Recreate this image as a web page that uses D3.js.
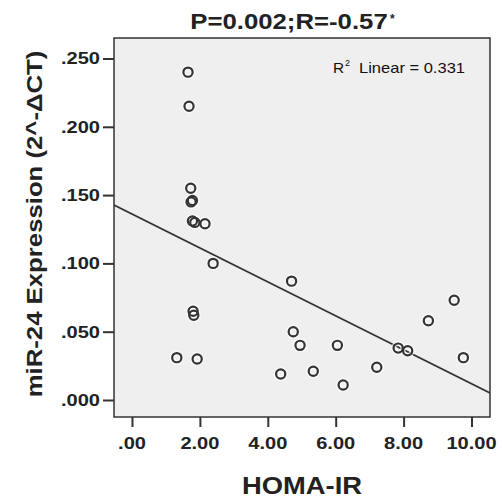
<!DOCTYPE html>
<html>
<head>
<meta charset="utf-8">
<script src="https://cdn.jsdelivr.net/npm/d3@7"></script>
<style>
  body { margin: 0; background: #ffffff; }
  text { font-family: "Liberation Sans", Arial, sans-serif; fill: #222; }
</style>
</head>
<body>
<svg id="chart" width="502" height="503"></svg>
<script>
// HOMA-IR vs miR-24 expression
const homaIR = [1.65, 1.68, 1.73, 1.74, 1.78, 1.78, 1.85, 2.15, 2.39, 1.80, 1.82, 1.32, 1.92,
  4.70, 4.75, 4.95, 6.05, 4.38, 5.34, 6.22, 7.21, 7.84, 8.12, 8.73, 9.49, 9.76];
const mir24 = [0.240, 0.215, 0.155, 0.145, 0.146, 0.131, 0.130, 0.129, 0.100, 0.065, 0.062, 0.031, 0.030,
  0.087, 0.050, 0.040, 0.040, 0.019, 0.021, 0.011, 0.024, 0.038, 0.036, 0.058, 0.073, 0.031];

const xTicks = [0, 2, 4, 6, 8, 10];
const xTickLabels = [".00", "2.00", "4.00", "6.00", "8.00", "10.00"];
const yTicks = [0, 0.05, 0.10, 0.15, 0.20, 0.25];
const yTickLabels = [".000", ".050", ".100", ".150", ".200", ".250"];

// linear fit drawn in the picture
const fitIntercept = 0.1362;
const fitSlope = -0.01243;

const titleText = "P=0.002;R=-0.57";
const xTitle = "HOMA-IR";
const yTitle = "miR-24 Expression (2^-\u0394CT)";
const legendValue = "Linear = 0.331";

const svg = d3.select("#chart");
const plotL = 114, plotR = 490, plotT = 38, plotB = 417;

const x = d3.scaleLinear().domain([-0.53, 10.545]).range([plotL, plotR]);
const y = d3.scaleLinear().domain([-0.01245, 0.265]).range([plotB, plotT]);

// text is a bit wider than the font, so stretch it
function label(parent, px, py, txt, size, sx, anchor, rot, weight) {
  const g = parent.append("g")
    .attr("transform", `translate(${px},${py}) rotate(${rot || 0}) scale(${sx},1)`);
  return g.append("text")
    .attr("text-anchor", anchor)
    .style("font-size", size + "px")
    .style("font-weight", weight || "bold")
    .text(txt);
}

svg.append("rect")
  .attr("x", plotL).attr("y", plotT)
  .attr("width", plotR - plotL).attr("height", plotB - plotT)
  .style("fill", "#efefef");

svg.append("clipPath").attr("id", "plotClip")
  .append("rect")
  .attr("x", plotL).attr("y", plotT)
  .attr("width", plotR - plotL).attr("height", plotB - plotT);

// fit line
svg.append("line")
  .attr("clip-path", "url(#plotClip)")
  .attr("x1", x(-0.53)).attr("y1", y(fitIntercept + fitSlope * -0.53))
  .attr("x2", x(10.545)).attr("y2", y(fitIntercept + fitSlope * 10.545))
  .style("stroke", "#333")
  .style("stroke-width", 1.8);

const pts = homaIR.map((v, i) => ({ hx: v, my: mir24[i] }));

svg.append("g").selectAll("circle")
  .data(pts)
  .join("circle")
  .attr("cx", d => x(d.hx))
  .attr("cy", d => y(d.my))
  .attr("r", 4.6)
  .style("fill", "none")
  .style("stroke", "#ffffff")
  .style("stroke-width", 5)
  .style("opacity", 0.6);

svg.append("g").selectAll("circle")
  .data(pts)
  .join("circle")
  .attr("cx", d => x(d.hx))
  .attr("cy", d => y(d.my))
  .attr("r", 4.6)
  .style("fill", "none")
  .style("stroke", "#333")
  .style("stroke-width", 2.2);

// frame
svg.append("rect")
  .attr("x", plotL).attr("y", plotT)
  .attr("width", plotR - plotL).attr("height", plotB - plotT)
  .style("fill", "none")
  .style("stroke", "#333")
  .style("stroke-width", 1.5);

// axes
const yAxis = svg.append("g")
  .attr("transform", `translate(${plotL},0)`)
  .call(d3.axisLeft(y).tickValues(yTicks).tickSize(11).tickFormat(""));
const xAxis = svg.append("g")
  .attr("transform", `translate(0,${plotB})`)
  .call(d3.axisBottom(x).tickValues(xTicks).tickSize(10).tickFormat(""));
[yAxis, xAxis].forEach(a => {
  a.select(".domain").remove();
  a.selectAll("line").style("stroke", "#333").style("stroke-width", 2);
});

yTicks.forEach((t, i) => {
  label(svg, 100, y(t) + 6, yTickLabels[i], 17, 1.18, "end");
});
xTicks.forEach((t, i) => {
  label(svg, x(t), 449, xTickLabels[i], 17, 1.18, "middle");
});

// titles
label(svg, 289, 29, titleText, 22, 1.17, "middle");
label(svg, 390, 23, "*", 12, 1, "start");
label(svg, 302, 494, xTitle, 24, 1.14, "middle");
label(svg, 42, 224, yTitle, 22, 1.17, "middle", -90);

// fit legend
label(svg, 333, 72.5, "R", 14, 1.1, "start", 0, "normal").style("fill", "#111");
label(svg, 345, 66, "2", 9, 1, "start", 0, "normal").style("fill", "#111");
label(svg, 359, 72.5, legendValue, 14, 1.18, "start", 0, "normal").style("fill", "#111");
</script>
</body>
</html>
